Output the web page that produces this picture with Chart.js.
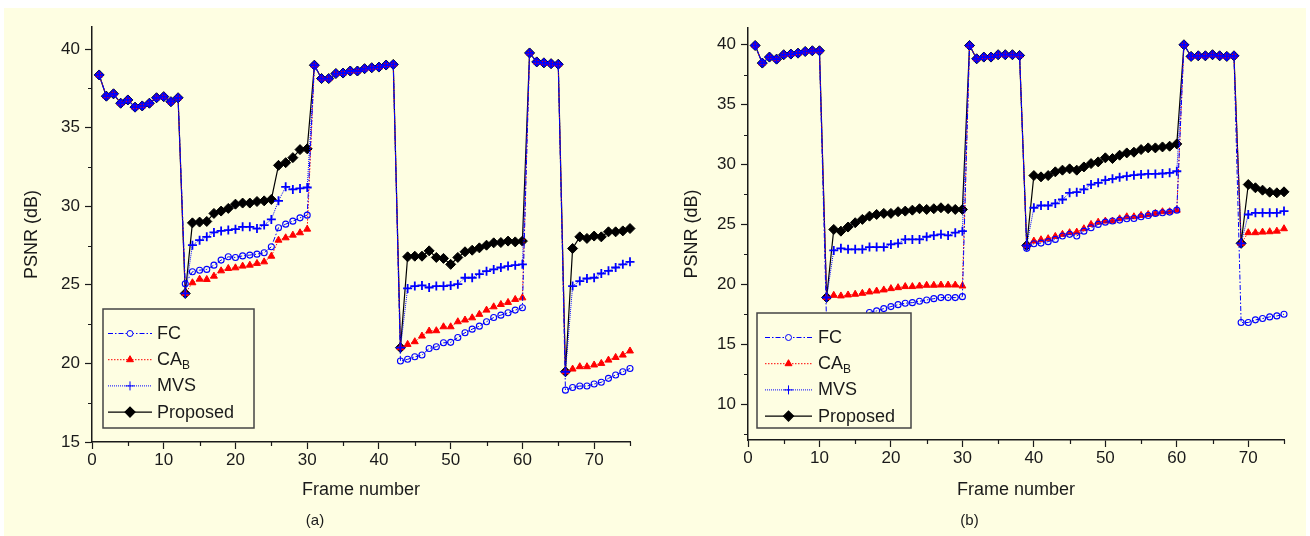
<!DOCTYPE html>
<html>
<head>
<meta charset="utf-8">
<script src="https://cdn.jsdelivr.net/npm/chart.js@4.4.1/dist/chart.umd.min.js"></script>
<style>
	body { margin: 0; background: #ffffff; }
	#Panel { position: absolute; left: 4px; top: 8px; width: 1302px; height: 528px; background: #FEFEE2; }
	canvas { position: absolute; top: 0; }
</style>
</head>
<body>
<div id="Panel"></div>
<canvas id="Chart_A" width="655" height="536" style="left:0px;width:655px;height:536px"></canvas>
<canvas id="Chart_B" width="655" height="536" style="left:655px;width:655px;height:536px"></canvas>
<script>

const frames = [1, 2, 3, 4, 5, 6, 7, 8, 9, 10, 11, 12, 13, 14, 15, 16, 17, 18, 19, 20, 21, 22, 23, 24, 25,
	26, 27, 28, 29, 30, 31, 32, 33, 34, 35, 36, 37, 38, 39, 40, 41, 42, 43, 44, 45, 46, 47, 48, 49, 50,
	51, 52, 53, 54, 55, 56, 57, 58, 59, 60, 61, 62, 63, 64, 65, 66, 67, 68, 69, 70, 71, 72, 73, 74, 75];

const series_names = ['FC', 'CA', 'MVS', 'Proposed'];

// panel (a)
const fc_a = [38.35, 37.0, 37.15, 36.55, 36.76, 36.3, 36.38, 36.55, 36.9, 36.97, 36.65, 36.9,
	25.06, 25.83, 25.93, 25.98, 26.25, 26.57, 26.78, 26.74, 26.84, 26.89, 26.95, 27.04, 27.42, 28.63, 28.86, 29.05, 29.26, 29.43,
	38.97, 38.12, 38.12, 38.44, 38.47, 38.6, 38.6, 38.75, 38.81, 38.85, 38.98, 39.02,
	20.15, 20.26, 20.42, 20.53, 20.95, 21.06, 21.31, 21.34, 21.65, 21.95, 22.18, 22.37, 22.65, 22.92, 23.07, 23.22, 23.39, 23.54,
	39.75, 39.18, 39.12, 39.07, 39.03,
	18.3, 18.47, 18.56, 18.56, 18.69, 18.8, 19.05, 19.26, 19.47, 19.68];
const cab_a = [38.35, 37.0, 37.15, 36.55, 36.76, 36.3, 36.38, 36.55, 36.9, 36.97, 36.65, 36.9,
	24.45, 25.13, 25.36, 25.34, 25.55, 25.89, 26.04, 26.08, 26.19, 26.25, 26.36, 26.46, 26.82, 27.84, 27.99, 28.16, 28.31, 28.54,
	38.97, 38.12, 38.12, 38.44, 38.47, 38.6, 38.6, 38.75, 38.81, 38.85, 38.98, 39.02,
	21.0, 21.21, 21.38, 21.74, 22.06, 22.08, 22.33, 22.33, 22.65, 22.76, 22.9, 23.12, 23.39, 23.6, 23.75, 23.88, 24.07, 24.17,
	39.75, 39.18, 39.12, 39.07, 39.03,
	19.47, 19.64, 19.79, 19.79, 19.9, 20.0, 20.21, 20.38, 20.53, 20.79];
const mvs_a = [38.35, 37.0, 37.15, 36.55, 36.76, 36.3, 36.38, 36.55, 36.9, 36.97, 36.65, 36.9,
	24.45, 27.52, 27.84, 28.05, 28.33, 28.43, 28.48, 28.54, 28.69, 28.69, 28.58, 28.8, 29.16, 30.34, 31.23, 31.07, 31.13, 31.19,
	38.97, 38.12, 38.12, 38.44, 38.47, 38.6, 38.6, 38.75, 38.81, 38.85, 38.98, 39.02,
	21.0, 24.77, 24.92, 24.96, 24.83, 24.92, 24.92, 24.96, 25.04, 25.45, 25.45, 25.68, 25.87, 25.98, 26.1, 26.19, 26.25, 26.3,
	39.75, 39.18, 39.12, 39.07, 39.03,
	19.47, 24.92, 25.24, 25.4, 25.45, 25.72, 25.89, 26.1, 26.3, 26.46];
const prop_a = [38.35, 37.0, 37.15, 36.55, 36.76, 36.3, 36.38, 36.55, 36.9, 36.97, 36.65, 36.9,
	24.45, 28.94, 28.99, 29.03, 29.54, 29.69, 29.86, 30.13, 30.2, 30.2, 30.3, 30.34, 30.43, 32.6, 32.77, 33.09, 33.6, 33.65,
	38.97, 38.12, 38.12, 38.44, 38.47, 38.6, 38.6, 38.75, 38.81, 38.85, 38.98, 39.02,
	21.0, 26.78, 26.82, 26.82, 27.16, 26.74, 26.68, 26.3, 26.74, 27.1, 27.2, 27.35, 27.52, 27.67, 27.69, 27.78, 27.73, 27.78,
	39.75, 39.18, 39.12, 39.07, 39.03,
	19.47, 27.31, 28.05, 27.95, 28.1, 28.05, 28.37, 28.37, 28.43, 28.58];

// panel (b)
const fc_b = [39.94, 38.47, 38.97, 38.8, 39.17, 39.22, 39.3, 39.44, 39.5, 39.5,
	16.6, 16.8, 16.9, 17.0, 17.1, 17.3, 17.64, 17.78, 17.97, 18.14, 18.3, 18.42, 18.47, 18.58, 18.69, 18.8, 18.89, 18.89, 18.89, 18.97,
	39.94, 38.83, 38.97, 38.97, 39.17, 39.17, 39.17, 39.11,
	23.0, 23.39, 23.44, 23.56, 23.75, 24.03, 24.17, 24.03, 24.44, 24.72, 25.0, 25.19, 25.28, 25.36, 25.47, 25.5, 25.64, 25.75, 25.92, 25.97, 26.03, 26.19,
	40.0, 39.03, 39.08, 39.08, 39.17, 39.08, 39.03, 39.08,
	16.81, 16.81, 17.03, 17.14, 17.28, 17.36, 17.5];
const cab_b = [39.94, 38.47, 38.97, 38.8, 39.17, 39.22, 39.3, 39.44, 39.5, 39.5,
	18.9, 19.08, 19.03, 19.11, 19.17, 19.25, 19.36, 19.44, 19.53, 19.64, 19.72, 19.81, 19.81, 19.86, 19.92, 19.92, 19.94, 19.94, 19.94, 19.86,
	39.94, 38.83, 38.97, 38.97, 39.17, 39.17, 39.17, 39.11,
	23.25, 23.61, 23.72, 23.81, 24.0, 24.17, 24.31, 24.36, 24.64, 25.0, 25.19, 25.28, 25.28, 25.47, 25.64, 25.64, 25.75, 25.83, 25.92, 26.06, 26.06, 26.19,
	40.0, 39.03, 39.08, 39.08, 39.17, 39.08, 39.03, 39.08,
	23.42, 24.31, 24.31, 24.36, 24.39, 24.44, 24.64];
const mvs_b = [39.94, 38.47, 38.97, 38.8, 39.17, 39.22, 39.3, 39.44, 39.5, 39.5,
	18.9, 22.83, 23.0, 22.92, 22.92, 22.92, 23.11, 23.11, 23.11, 23.33, 23.42, 23.75, 23.75, 23.75, 23.97, 24.08, 24.17, 24.08, 24.31, 24.44,
	39.94, 38.83, 38.97, 38.97, 39.17, 39.17, 39.17, 39.11,
	23.25, 26.39, 26.58, 26.58, 26.75, 27.08, 27.64, 27.69, 27.92, 28.33, 28.47, 28.69, 28.81, 28.94, 29.03, 29.11, 29.17, 29.22, 29.22, 29.25, 29.31, 29.44,
	40.0, 39.03, 39.08, 39.08, 39.17, 39.08, 39.03, 39.08,
	23.42, 25.83, 25.97, 25.97, 25.97, 25.97, 26.11];
const prop_b = [39.94, 38.47, 38.97, 38.8, 39.17, 39.22, 39.3, 39.44, 39.5, 39.5,
	18.9, 24.58, 24.44, 24.78, 25.14, 25.42, 25.69, 25.83, 25.92, 25.92, 26.06, 26.11, 26.19, 26.31, 26.25, 26.31, 26.39, 26.31, 26.25, 26.25,
	39.94, 38.83, 38.97, 38.97, 39.17, 39.17, 39.17, 39.11,
	23.25, 29.08, 28.97, 29.08, 29.39, 29.53, 29.64, 29.53, 29.8, 30.08, 30.22, 30.56, 30.5, 30.78, 30.97, 31.03, 31.25, 31.39, 31.39, 31.47, 31.53, 31.72,
	40.0, 39.03, 39.08, 39.08, 39.17, 39.08, 39.03, 39.08,
	23.42, 28.33, 28.06, 27.86, 27.69, 27.64, 27.72];

// tick labels
const x_ticks = [0, 10, 20, 30, 40, 50, 60, 70];
const x_minor = [5, 15, 25, 35, 45, 55, 65, 75];
const y_ticks_a = [15, 20, 25, 30, 35, 40];
const y_minor_a = [17.5, 22.5, 27.5, 32.5, 37.5];
const y_ticks_b = [10, 15, 20, 25, 30, 35, 40];
const y_minor_b = [7.5, 12.5, 17.5, 22.5, 27.5, 32.5, 37.5];

const BG = '#FEFEE2';
const INK = '#1a1a1a';
const FONT = "'Liberation Sans', Arial, sans-serif";

Chart.defaults.font.family = FONT;
Chart.defaults.color = INK;

//=============================================================================================================================

// open circles are left unfilled so the marks underneath show through
const styles = [
	{ color: '#0000FF', dash: [5, 2, 1.5, 2], width: 1, point: 'circle', radius: 3, border: 1.1, fill: 'rgba(0,0,0,0)', order: 2 },
	{ color: '#FF0000', dash: [1.5, 1.5], width: 1, point: 'triangle', radius: 4, border: 1, fill: '#FF0000', order: 3 },
	{ color: '#0000FF', dash: [1, 1], width: 1, point: 'cross', radius: 4.5, border: 1.8, fill: '#0000FF', order: 1 },
	{ color: '#000000', dash: [], width: 1.2, point: 'rectRot', radius: 5, border: 1, fill: '#000000', order: 4 }
];

function make_datasets(values) {
	const datasets = [];
	for(let i = 0; i < values.length; i++) {
		const s = styles[i];
		datasets.push({
			label: series_names[i],
			data: values[i],
			borderColor: s.color,
			borderWidth: s.width,
			borderDash: s.dash,
			pointStyle: s.point,
			pointRadius: s.radius,
			pointBorderWidth: s.border,
			pointBorderColor: s.color,
			pointBackgroundColor: s.fill,
			tension: 0,
			clip: false,
			order: s.order
		});
	}
	return datasets;
}

//=============================================================================================================================

const minor_ticks_plugin = {
	id: 'minor_ticks',
	afterDraw(chart, args, opts) {
		const ctx = chart.ctx;
		const area = chart.chartArea;
		const xs = chart.scales.x;
		const ys = chart.scales.y;
		ctx.save();
		ctx.strokeStyle = INK;
		ctx.lineWidth = 1.2;
		ctx.beginPath();
		opts.x_minor.forEach(function(v) {
			const px = Math.round(xs.getPixelForValue(v)) + 0.5;
			ctx.moveTo(px, area.bottom);
			ctx.lineTo(px, area.bottom + 4);
		});
		opts.y_minor.forEach(function(v) {
			const py = Math.round(ys.getPixelForValue(v)) + 0.5;
			ctx.moveTo(area.left - 4, py);
			ctx.lineTo(area.left, py);
		});
		ctx.stroke();
		ctx.restore();
	}
};

const legend_plugin = {
	id: 'box_legend',
	afterDatasetsDraw(chart, args, opts) {
		const ctx = chart.ctx;
		const box = opts.box;
		ctx.save();
		ctx.fillStyle = BG;
		ctx.fillRect(box.x, box.y, box.w, box.h);
		ctx.strokeStyle = '#444444';
		ctx.lineWidth = 1.5;
		ctx.strokeRect(box.x, box.y, box.w, box.h);

		for(let i = 0; i < styles.length; i++) {
			const s = styles[i];
			const y = box.y + 24 + i * 26.2;
			ctx.strokeStyle = s.color;
			ctx.lineWidth = s.width;
			ctx.setLineDash(s.dash);
			ctx.beginPath();
			ctx.moveTo(box.x + box.line0, y + 0.5);
			ctx.lineTo(box.x + box.line1, y + 0.5);
			ctx.stroke();
			ctx.setLineDash([]);

			ctx.fillStyle = (s.point === 'circle') ? BG : s.fill;
			ctx.strokeStyle = s.color;
			Chart.helpers.drawPoint(ctx, {
				pointStyle: s.point,
				radius: s.radius,
				rotation: 0,
				borderWidth: s.border
			}, box.x + (box.line0 + box.line1) / 2, y + 0.5);

			ctx.fillStyle = INK;
			ctx.textBaseline = 'middle';
			ctx.textAlign = 'left';
			ctx.font = `18px ${FONT}`;
			const tx = box.x + box.text;
			ctx.fillText(series_names[i], tx, y + 1);
			if(i === 1) {
				const w = ctx.measureText(series_names[i]).width;
				ctx.font = `12px ${FONT}`;
				ctx.fillText('B', tx + w, y + 6);
			}
		}
		ctx.restore();
	}
};

//=============================================================================================================================

function make_chart(canvas_id, values, cfg) {

	const ctx = document.getElementById(canvas_id).getContext('2d');

	const options = {
		responsive: false,
		animation: false,
		events: [],
		layout: {
			padding: { top: cfg.pad_top, right: cfg.pad_right, left: 0, bottom: 0 }
		},
		scales: {
			x: {
				type: 'linear',
				min: 0,
				max: 75,
				afterBuildTicks: function(scale) { scale.ticks = x_ticks.map(v => ({ value: v })); },
				afterFit: function(scale) { scale.height = cfg.x_height; },
				grid: { display: true, drawOnChartArea: false, drawTicks: true, tickLength: 7, tickColor: INK, tickWidth: 1.2 },
				border: { display: true, color: INK, width: 1.5 },
				ticks: { color: INK, font: { size: 17 }, padding: 1, maxRotation: 0, autoSkip: false },
				title: { display: true, text: 'Frame number', color: INK, font: { size: 18 }, padding: { top: 0, bottom: 11 } }
			},
			y: {
				type: 'linear',
				min: cfg.y_min,
				max: cfg.y_max,
				afterBuildTicks: function(scale) { scale.ticks = cfg.y_ticks.map(v => ({ value: v })); },
				afterFit: function(scale) { scale.width = cfg.y_width; },
				grid: { display: true, drawOnChartArea: false, drawTicks: true, tickLength: 7, tickColor: INK, tickWidth: 1.2 },
				border: { display: true, color: INK, width: 1.5 },
				ticks: { color: INK, font: { size: 17 }, padding: 5, autoSkip: false },
				title: { display: true, text: 'PSNR (dB)', color: INK, font: { size: 18 }, padding: { top: cfg.y_title_pad, bottom: 0 } }
			}
		},
		plugins: {
			legend: { display: false },
			tooltip: { enabled: false },
			title: {
				display: true,
				position: 'bottom',
				text: cfg.caption,
				color: INK,
				font: { size: 15, weight: 'normal' },
				padding: { top: 0, bottom: 6 }
			},
			minor_ticks: { x_minor: x_minor, y_minor: cfg.y_minor },
			box_legend: { box: cfg.legend }
		}
	};

	const config = {
		type: 'line',
		data: {
			labels: frames,
			datasets: make_datasets(values)
		},
		options: options,
		plugins: [minor_ticks_plugin, legend_plugin]
	};

	return new Chart(ctx, config);
}

make_chart('Chart_A', [fc_a, cab_a, mvs_a, prop_a], {
	caption: '(a)',
	y_min: 15, y_max: 41.4,
	y_ticks: y_ticks_a, y_minor: y_minor_a,
	pad_top: 27, pad_right: 25,
	y_width: 92, x_height: 70, y_title_pad: 21,
	legend: { x: 103, y: 309, w: 151, h: 119, line0: 5, line1: 49, text: 54 }
});

make_chart('Chart_B', [fc_b, cab_b, mvs_b, prop_b], {
	caption: '(b)',
	y_min: 7, y_max: 41.4,
	y_ticks: y_ticks_b, y_minor: y_minor_b,
	pad_top: 28, pad_right: 26,
	y_width: 93, x_height: 72, y_title_pad: 26,
	legend: { x: 102, y: 313, w: 154, h: 115, line0: 8, line1: 55, text: 61 }
});

</script>
</body>
</html>
